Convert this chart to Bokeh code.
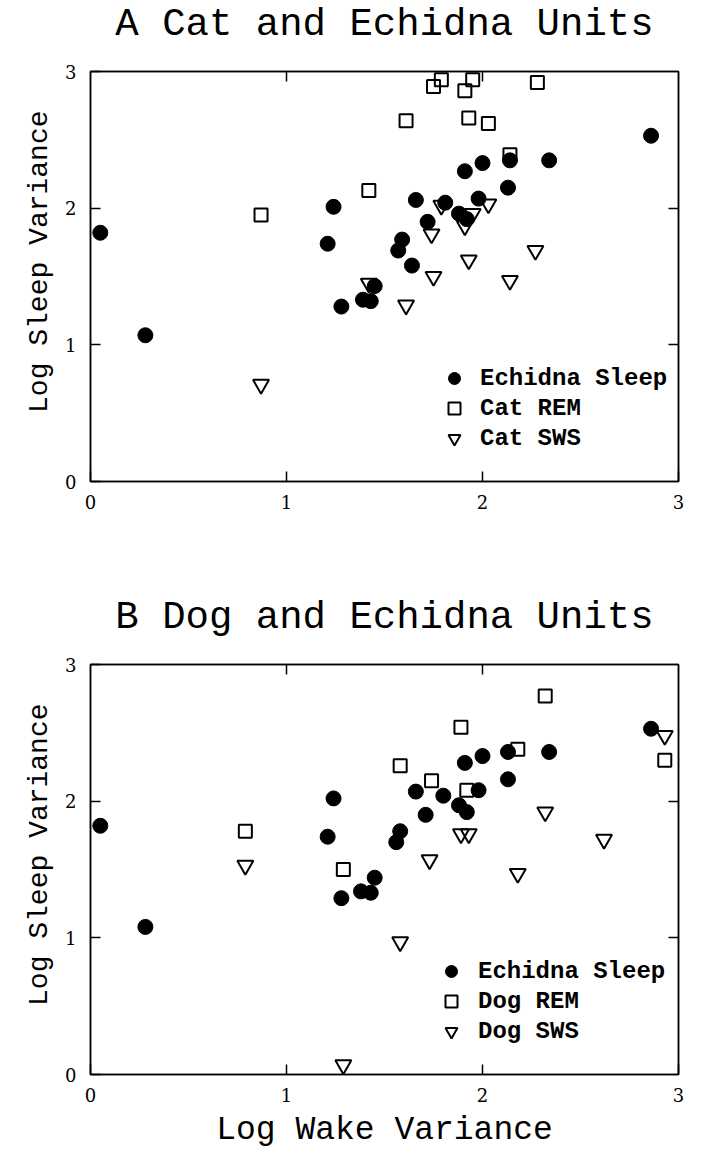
from bokeh.plotting import figure
from bokeh.models import LinearAxis, FixedTicker, Legend, LegendItem, Title, Range1d
from bokeh.layouts import column
from bokeh.embed import file_html
from bokeh.resources import INLINE

# ---------------- data ----------------
echidna_x_a = [0.05, 0.28, 1.21, 1.24, 1.28, 1.39, 1.43, 1.45, 1.57, 1.59, 1.64, 1.66,
               1.72, 1.81, 1.88, 1.92, 1.91, 1.98, 2.00, 2.13, 2.14, 2.34, 2.86]
echidna_y_a = [1.82, 1.07, 1.74, 2.01, 1.28, 1.33, 1.32, 1.43, 1.69, 1.77, 1.58, 2.06,
               1.90, 2.04, 1.96, 1.92, 2.27, 2.07, 2.33, 2.15, 2.35, 2.35, 2.53]

cat_rem_x = [0.87, 1.42, 1.61, 1.75, 1.79, 1.91, 1.93, 1.95, 2.03, 2.14, 2.28]
cat_rem_y = [1.95, 2.13, 2.64, 2.89, 2.94, 2.86, 2.66, 2.94, 2.62, 2.39, 2.92]

cat_sws_x = [0.87, 1.42, 1.61, 1.74, 1.75, 1.79, 1.91, 1.93, 1.95, 2.03, 2.14, 2.27]
cat_sws_y = [0.71, 1.45, 1.29, 1.81, 1.50, 2.02, 1.87, 1.62, 1.96, 2.03, 1.47, 1.69]

echidna_x_b = [0.05, 0.28, 1.21, 1.24, 1.28, 1.38, 1.43, 1.45, 1.56, 1.58, 1.66,
               1.71, 1.80, 1.88, 1.92, 1.91, 1.98, 2.00, 2.13, 2.13, 2.34, 2.86]
echidna_y_b = [1.82, 1.08, 1.74, 2.02, 1.29, 1.34, 1.33, 1.44, 1.70, 1.78, 2.07,
               1.90, 2.04, 1.97, 1.92, 2.28, 2.08, 2.33, 2.16, 2.36, 2.36, 2.53]

dog_rem_x = [0.79, 1.29, 1.58, 1.74, 1.89, 1.92, 2.18, 2.32, 2.93]
dog_rem_y = [1.78, 1.50, 2.26, 2.15, 2.54, 2.08, 2.38, 2.77, 2.30]

dog_sws_x = [0.79, 1.29, 1.58, 1.73, 1.89, 1.93, 2.18, 2.32, 2.62, 2.93]
dog_sws_y = [1.53, 0.07, 0.97, 1.57, 1.76, 1.76, 1.47, 1.92, 1.72, 2.48]

tick_values = [0, 1, 2, 3]
inner_tick_values = [1, 2]
titles = ["A Cat and Echidna Units", "B Dog and Echidna Units"]
legend_labels_a = ["Echidna Sleep", "Cat REM", "Cat SWS"]
legend_labels_b = ["Echidna Sleep", "Dog REM", "Dog SWS"]
x_label = "Log Wake Variance"
y_label = "Log Sleep Variance"

MONO = "Liberation Mono"
SERIF = "DejaVu Serif"


def make_panel(title, ex, ey, rx, ry, sx, sy, labels, height, top, bottom,
               xlabel, legend_loc, legend_standoff):
    p = figure(width=690, height=height, x_range=Range1d(0, 3), y_range=Range1d(0, 3),
               output_backend="svg", toolbar_location=None,
               min_border_left=90, min_border_right=12,
               min_border_top=top, min_border_bottom=bottom, title=None)
    p.grid.visible = False
    p.background_fill_color = "white"
    p.border_fill_color = "white"
    p.outline_line_color = "black"
    p.outline_line_width = 1.5

    for ax in [p.xaxis[0], p.yaxis[0]]:
        ax.ticker = FixedTicker(ticks=tick_values)
        ax.major_tick_in = 10
        ax.major_tick_out = 0
        ax.minor_tick_line_color = None
        ax.axis_line_width = 1.5
        ax.major_tick_line_width = 1.5
        ax.major_label_text_font = SERIF
        ax.major_label_text_font_size = "18px"
        ax.major_label_text_color = "black"
        ax.axis_label_text_font = MONO
        ax.axis_label_text_font_style = "normal"
        ax.axis_label_text_color = "black"
    p.xaxis[0].major_label_standoff = 13
    p.yaxis[0].major_label_standoff = 14
    if xlabel:
        p.xaxis[0].axis_label = xlabel
        p.xaxis[0].axis_label_text_font_size = "33px"
        p.xaxis[0].axis_label_standoff = 7

    # inward ticks on the top and right edges (labels not drawn)
    for side in ["above", "right"]:
        ax = LinearAxis(ticker=FixedTicker(ticks=inner_tick_values),
                        major_label_text_font_size="1px",
                        major_label_text_color=None,
                        major_tick_in=10, major_tick_out=0,
                        major_tick_line_width=1.5, axis_line_width=1.5,
                        minor_tick_line_color=None, major_label_standoff=0)
        p.add_layout(ax, side)

    # empty spacer between the frame and the panel title
    spacer = LinearAxis(ticker=FixedTicker(ticks=inner_tick_values),
                        major_label_text_font_size="1px",
                        major_label_text_color=None,
                        major_tick_in=0, major_tick_out=25,
                        major_tick_line_color=None, axis_line_color=None,
                        minor_tick_line_color=None, major_label_standoff=0)
    p.add_layout(spacer, "above")

    p.add_layout(Title(text=title, align="center", text_font=MONO,
                       text_font_size="39px", text_font_style="normal",
                       text_color="black", standoff=0), "above")

    # y axis title, slightly above the frame's middle as in the original
    p.add_layout(Title(text=y_label, align="right", offset=39, text_font=MONO,
                       text_font_size="28px", text_font_style="normal",
                       text_color="black", standoff=15), "left")

    r_e = p.scatter(ex, ey, marker="circle", size=15,
                    fill_color="black", line_color="black")
    r_r = p.scatter(rx, ry, marker="square", size=13, fill_color=None,
                    line_color="black", line_width=2)
    r_s = p.scatter(sx, sy, marker="inverted_triangle", size=16, fill_color=None,
                    line_color="black", line_width=2)

    legend = Legend(items=[LegendItem(label=labels[0], renderers=[r_e]),
                           LegendItem(label=labels[1], renderers=[r_r]),
                           LegendItem(label=labels[2], renderers=[r_s])],
                    location=legend_loc, orientation="vertical",
                    glyph_width=30, glyph_height=30, label_height=30,
                    spacing=0, padding=0, margin=0, label_standoff=legend_standoff,
                    label_text_font=MONO, label_text_font_size="24px",
                    label_text_font_style="bold", label_text_color="black",
                    border_line_color=None, background_fill_alpha=0)
    p.add_layout(legend)
    return p


pA = make_panel(titles[0], echidna_x_a, echidna_y_a, cat_rem_x, cat_rem_y,
                cat_sws_x, cat_sws_y, legend_labels_a, 552, 71, 71, None, (349, 28), 11)
pB = make_panel(titles[1], echidna_x_b, echidna_y_b, dog_rem_x, dog_rem_y,
                dog_sws_x, dog_sws_y, legend_labels_b, 601, 112, 79, x_label, (346, 28), 12)

layout = column(pA, pB, spacing=0)
open("out.html", "w").write(file_html(layout, INLINE))
